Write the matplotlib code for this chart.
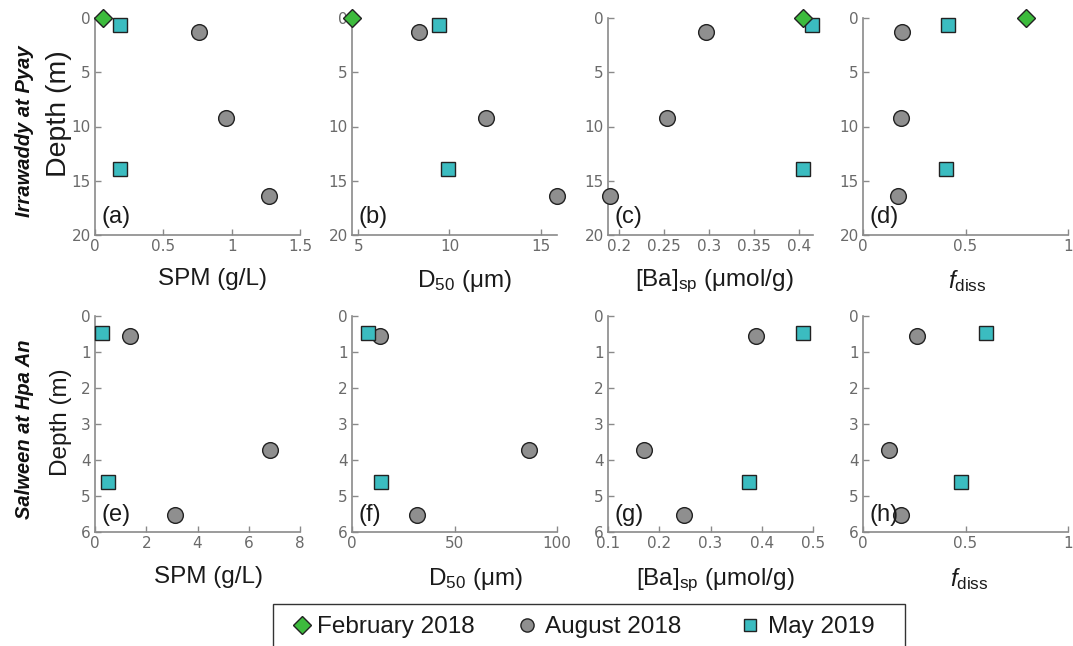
import matplotlib
matplotlib.use("Agg")
import matplotlib.pyplot as plt
from matplotlib.lines import Line2D
from matplotlib.patches import Rectangle

plt.rcParams['font.family'] = ['Liberation Sans', 'DejaVu Sans']
plt.rcParams['mathtext.fontset'] = 'custom'
plt.rcParams['mathtext.rm'] = 'Liberation Sans'
plt.rcParams['mathtext.it'] = 'Liberation Sans:italic'

# ---------------- data ----------------
# Irrawaddy at Pyay
irr_feb_depth = [0.0]
irr_feb_spm = [0.056]
irr_feb_d50 = [4.65]
irr_feb_ba = [0.405]
irr_feb_fdiss = [0.794]

irr_aug_depth = [1.3, 9.2, 16.4]
irr_aug_spm = [0.76, 0.96, 1.27]
irr_aug_d50 = [8.3, 12.0, 15.9]
irr_aug_ba = [0.297, 0.254, 0.190]
irr_aug_fdiss = [0.191, 0.185, 0.173]

irr_may_depth = [0.6, 13.9]
irr_may_spm = [0.18, 0.18]
irr_may_d50 = [9.4, 9.9]
irr_may_ba = [0.414, 0.405]
irr_may_fdiss = [0.415, 0.407]

# Salween at Hpa An
sal_aug_depth = [0.55, 3.72, 5.53]
sal_aug_spm = [1.35, 6.82, 3.13]
sal_aug_d50 = [13.7, 86.1, 31.7]
sal_aug_ba = [0.388, 0.171, 0.248]
sal_aug_fdiss = [0.263, 0.127, 0.186]

sal_may_depth = [0.46, 4.62]
sal_may_spm = [0.26, 0.51]
sal_may_d50 = [8.0, 14.0]
sal_may_ba = [0.480, 0.376]
sal_may_fdiss = [0.598, 0.479]

series_labels = ['February 2018', 'August 2018', 'May 2019']
panel_letters = ['(a)', '(b)', '(c)', '(d)', '(e)', '(f)', '(g)', '(h)']
xlabels = ['SPM (g/L)', r'D$_{50}$ (μm)', r'[Ba]$_{\mathrm{sp}}$ (μmol/g)', r'$f_{\mathrm{diss}}$']
row_titles = ['Irrawaddy at Pyay', 'Salween at Hpa An']

top_xlims = [(0, 1.5), (4.65, 15.9), (0.188, 0.4156), (0, 1)]
top_xticks = [[0, 0.5, 1, 1.5], [5, 10, 15], [0.2, 0.25, 0.3, 0.35, 0.4], [0, 0.5, 1]]
top_xticklabels = [['0', '0.5', '1', '1.5'], ['5', '10', '15'],
                   ['0.2', '0.25', '0.3', '0.35', '0.4'], ['0', '0.5', '1']]
bot_xlims = [(0, 8), (0, 100), (0.1, 0.5), (0, 1)]
bot_xticks = [[0, 2, 4, 6, 8], [0, 50, 100], [0.1, 0.2, 0.3, 0.4, 0.5], [0, 0.5, 1]]
bot_xticklabels = [['0', '2', '4', '6', '8'], ['0', '50', '100'],
                   ['0.1', '0.2', '0.3', '0.4', '0.5'], ['0', '0.5', '1']]
top_yticks = [0, 5, 10, 15, 20]
bot_yticks = [0, 1, 2, 3, 4, 5, 6]

# ---------------- layout / styles ----------------
W, H = 1073, 646
fig = plt.figure(figsize=(W / 100, H / 100), dpi=100)

green = '#3dbb3d'
grey = '#8f8f8f'
cyan = '#3bbcc0'
edge = '#222222'
axis_col = '#8a8a8a'
tick_col = '#6a6a6a'
text_col = '#1a1a1a'

lefts = [95, 352, 608, 863]
width = 205
rows = [(18, 235), (316, 532)]
ylabel_sizes = [20.5, 17.5]
ylabel_coords = [(-0.11, 0.558), (-0.112, 0.51)]
xlabel_xpos = [[0.571, 0.549, 0.52, 0.51], [0.556, 0.60, 0.525, 0.52]]
xlabel_ypos = [-0.152, -0.158]

sty_feb = dict(marker='D', ms=9, mfc=green, mec=edge, mew=1.0, ls='none', clip_on=False, zorder=5)
sty_aug = dict(marker='o', ms=11.3, mfc=grey, mec=edge, mew=1.0, ls='none', clip_on=False, zorder=4)
sty_may = dict(marker='s', ms=10, mfc=cyan, mec=edge, mew=1.0, ls='none', clip_on=False, zorder=4)

top_data = [
    (irr_feb_spm, irr_aug_spm, irr_may_spm),
    (irr_feb_d50, irr_aug_d50, irr_may_d50),
    (irr_feb_ba, irr_aug_ba, irr_may_ba),
    (irr_feb_fdiss, irr_aug_fdiss, irr_may_fdiss),
]
bot_data = [
    (sal_aug_spm, sal_may_spm),
    (sal_aug_d50, sal_may_d50),
    (sal_aug_ba, sal_may_ba),
    (sal_aug_fdiss, sal_may_fdiss),
]


def style_axes(ax):
    for s in ['top', 'right']:
        ax.spines[s].set_visible(False)
    for s in ['left', 'bottom']:
        ax.spines[s].set_color(axis_col)
        ax.spines[s].set_linewidth(1.2)
    ax.tick_params(direction='in', length=4, width=1, color=axis_col,
                   labelcolor=tick_col, labelsize=11, pad=3)
    for lab in ax.get_xticklabels() + ax.get_yticklabels():
        lab.set_family('DejaVu Sans')


for r, (ytop, ybot) in enumerate(rows):
    for c in range(4):
        ax = fig.add_axes([lefts[c] / W, 1 - ybot / H, width / W, (ybot - ytop) / H])
        ax.patch.set_alpha(0)
        if r == 0:
            feb, aug, may = top_data[c]
            ax.plot(aug, irr_aug_depth, **sty_aug)
            ax.plot(may, irr_may_depth, **sty_may)
            ax.plot(feb, irr_feb_depth, **sty_feb)
            ax.set_xlim(*top_xlims[c])
            ax.set_xticks(top_xticks[c])
            ax.set_xticklabels(top_xticklabels[c])
            ax.set_ylim(20, 0)
            ax.set_yticks(top_yticks)
        else:
            aug, may = bot_data[c]
            ax.plot(aug, sal_aug_depth, **sty_aug)
            ax.plot(may, sal_may_depth, **sty_may)
            ax.set_xlim(*bot_xlims[c])
            ax.set_xticks(bot_xticks[c])
            ax.set_xticklabels(bot_xticklabels[c])
            ax.set_ylim(6, 0)
            ax.set_yticks(bot_yticks)
        style_axes(ax)
        ax.set_xlabel(xlabels[c], fontsize=17.5, color=text_col)
        ax.xaxis.set_label_coords(xlabel_xpos[r][c], xlabel_ypos[r])
        ax.text(0.03, 0.03, panel_letters[r * 4 + c], transform=ax.transAxes,
                fontsize=17, color=text_col, ha='left', va='bottom', zorder=6)
        if c == 0:
            ax.set_ylabel('Depth (m)', fontsize=ylabel_sizes[r], color=text_col)
            ax.yaxis.set_label_coords(*ylabel_coords[r])

# row titles
for r, (ytop, ybot) in enumerate(rows):
    fig.text(25 / W, 1 - ((ytop + ybot) / 2 + 5) / H, row_titles[r], rotation=90,
             fontsize=14.5, fontweight='bold', fontstyle='italic',
             ha='center', va='center', color='#111111')

# legend (built in figure pixel coordinates)
def fx(px):
    return px / W


def fy(py):
    return 1 - py / H


fig.add_artist(Rectangle((fx(273), fy(652)), fx(905) - fx(273), fy(604) - fy(652),
                         transform=fig.transFigure, fill=False,
                         edgecolor='#333333', linewidth=1.0, clip_on=False))
leg_marker_x = [302, 527, 750]
leg_text_x = [317, 545, 768]
leg_styles = [
    dict(marker='D', ms=9.5, mfc=green),
    dict(marker='o', ms=9.5, mfc=grey),
    dict(marker='s', ms=9, mfc=cyan),
]
for lab, mx, tx, st in zip(series_labels, leg_marker_x, leg_text_x, leg_styles):
    fig.add_artist(Line2D([fx(mx)], [fy(625)], transform=fig.transFigure,
                          mec=edge, mew=1.0, ls='none', **st))
    fig.text(fx(tx), fy(633), lab, fontsize=17.5, color=text_col,
             ha='left', va='baseline')

fig.savefig('out.png', dpi=100)
